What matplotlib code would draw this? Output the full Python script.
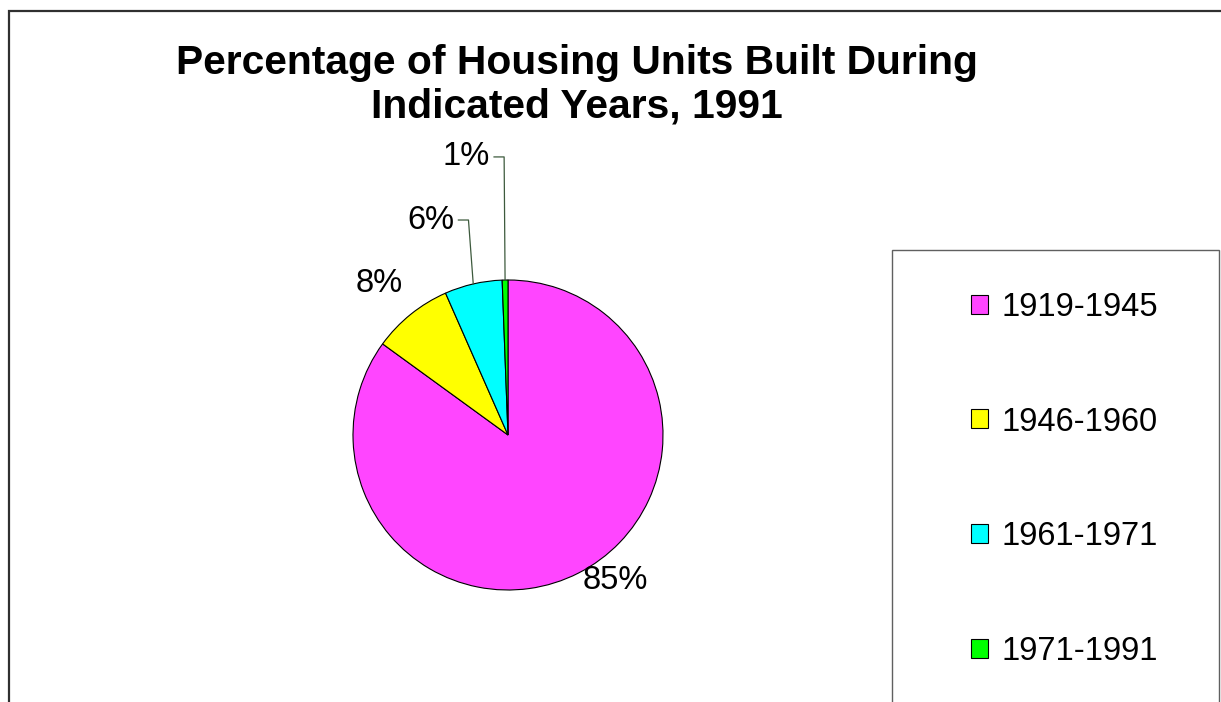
import numpy as np
import matplotlib.pyplot as plt
from matplotlib.patches import Rectangle

plt.rcParams['font.family'] = ['Liberation Sans', 'DejaVu Sans']

periods = ['1919-1945', '1946-1960', '1961-1971', '1971-1991']
shares = [85.0, 8.4, 6.0, 0.6]
colors = ['#ff45ff', '#ffff00', '#00ffff', '#00ff00']

W, H = 1221, 702
fig = plt.figure(figsize=(W / 100, H / 100), dpi=100)

# outer chart border (runs off right and bottom edge)
fig.patches.append(Rectangle((8.5 / W, -0.1), 1.2, 1 - 10.5 / H + 0.1,
                             transform=fig.transFigure, fill=False,
                             edgecolor='#303030', linewidth=1.6))

fig.text(577 / W, 1 - 85 / H, 'Percentage of Housing Units Built During\nIndicated Years, 1991',
         ha='center', va='center', fontsize=29.3, fontweight='bold', linespacing=1.2)

# pie: centre (508, 435), radius 155 px
cx, cy, r = 508, 435, 155
ax = fig.add_axes([(cx - r) / W, (H - cy - r) / H, 2 * r / W, 2 * r / H])
wedges, _ = ax.pie(shares, colors=colors, startangle=90, counterclock=False,
                   wedgeprops=dict(edgecolor='black', linewidth=0.8))
ax.set_xlim(-1, 1)
ax.set_ylim(-1, 1)
ax.set_aspect('equal')
ax.axis('off')

# label positions in pie-radius units
label_pos = [(0.69, -0.94), (-0.83, 0.98), (-0.50, 1.387), (-0.27, 1.794)]
leader = [False, False, True, True]
for w, s, (lx, ly), ld in zip(wedges, shares, label_pos, leader):
    ax.text(lx, ly, '%.0f%%' % s, ha='center', va='center', fontsize=23.5)
    if ld:
        mid = np.deg2rad((w.theta1 + w.theta2) / 2)
        x0 = lx + 0.18
        x1 = lx + 0.245
        ax.plot([x0, x1, np.cos(mid)], [ly, ly, np.sin(mid)],
                color='#3d5a3d', linewidth=0.9, clip_on=False)

# legend box
fig.patches.append(Rectangle((891.5 / W, -0.1), (1219 - 891.5) / W, 1 - 250 / H + 0.1,
                             transform=fig.transFigure, fill=False,
                             edgecolor='#606060', linewidth=1.0))
fig.legend(wedges, periods, loc='upper left', bbox_to_anchor=(971 / W, 1 - 292 / H),
           frameon=False, fontsize=23.5, handlelength=0.52, handleheight=0.52,
           handletextpad=0.42, labelspacing=2.56, borderpad=0, borderaxespad=0)

fig.savefig('out.png', dpi=100)
